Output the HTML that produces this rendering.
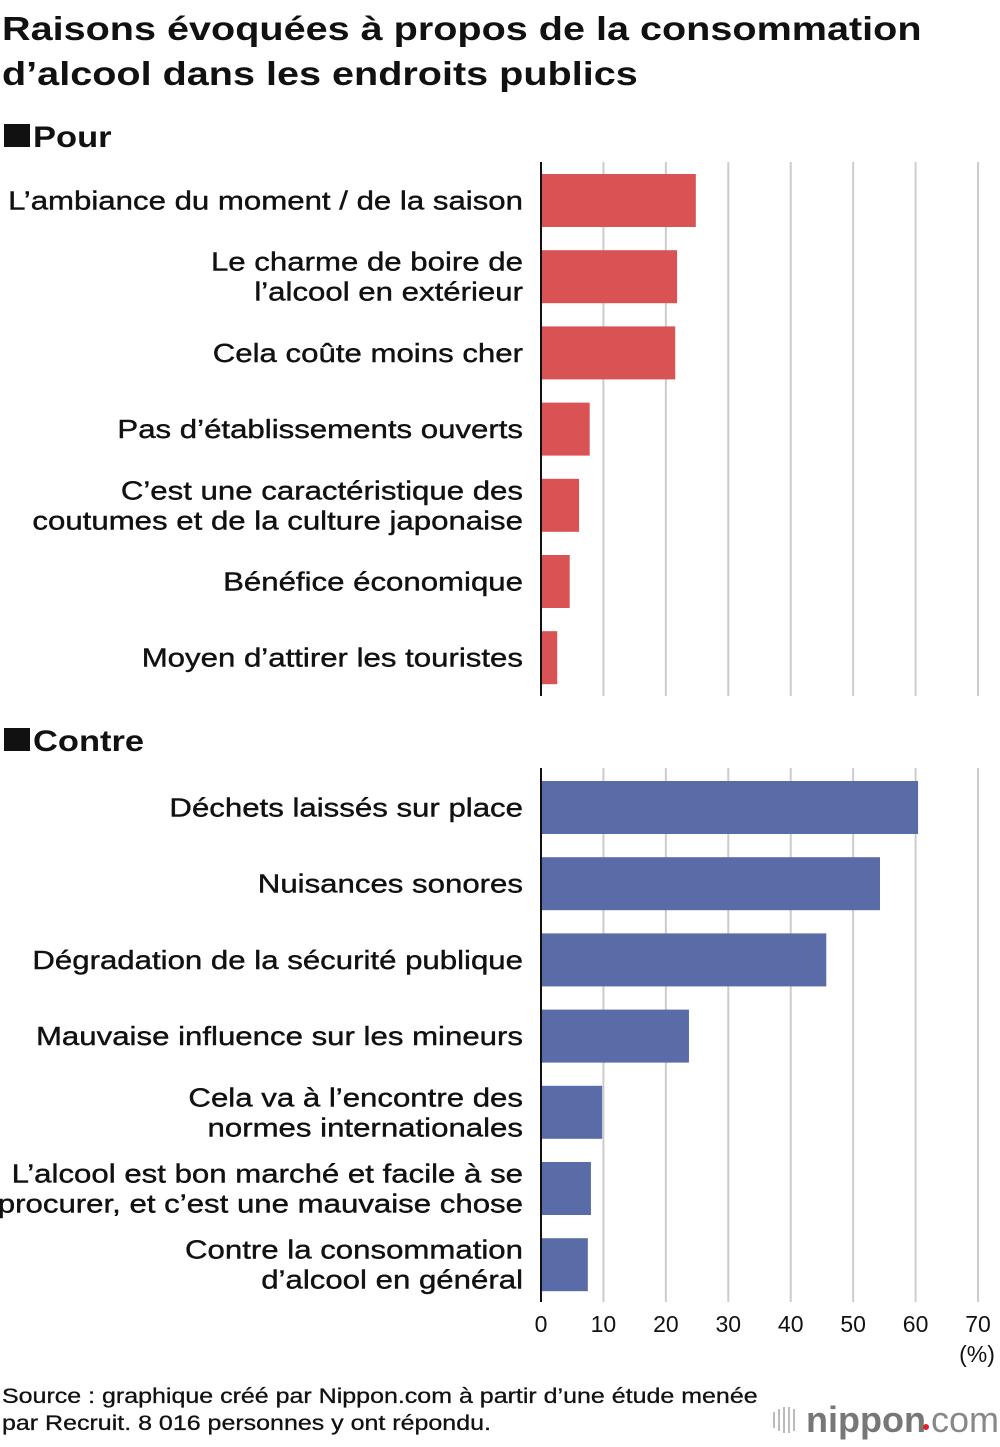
<!DOCTYPE html>
<html><head><meta charset="utf-8"><style>
body{margin:0;background:#fff;font-family:"Liberation Sans",Arial,sans-serif;}
svg text{font-family:"Liberation Sans",Arial,sans-serif;}
</style></head><body>
<svg id="c" width="1000" height="1442" xmlns="http://www.w3.org/2000/svg">
<text transform="translate(2,40) scale(1.2,1)" font-size="33" font-weight="bold" fill="#111">Raisons évoquées à propos de la consommation</text>
<text transform="translate(2,85) scale(1.2,1)" font-size="33" font-weight="bold" fill="#111">d’alcool dans les endroits publics</text>
<rect x="4" y="124" width="26" height="23" fill="#111"/>
<text transform="translate(33,147) scale(1.15,1)" font-size="30" font-weight="bold" fill="#111">Pour</text>
<rect x="4" y="728" width="26" height="23" fill="#111"/>
<text transform="translate(33,751) scale(1.15,1)" font-size="30" font-weight="bold" fill="#111">Contre</text>
<g id="grid"></g><g id="bars"></g><g id="labels"></g><g id="ticks"></g>
<text x="977" y="1362" font-size="23" text-anchor="middle" fill="#111">(%)</text>
<text transform="translate(2,1403) scale(1.19,1)" font-size="21" fill="#111" stroke="#111" stroke-width="0.3">Source : graphique créé par Nippon.com à partir d’une étude menée</text>
<text transform="translate(2,1430) scale(1.19,1)" font-size="21" fill="#111" stroke="#111" stroke-width="0.3">par Recruit. 8 016 personnes y ont répondu.</text>
<g>
<g stroke="#bbb" stroke-width="2"><line x1="774" y1="1412" x2="774" y2="1428"/><line x1="779" y1="1409" x2="779" y2="1431"/><line x1="784" y1="1407" x2="784" y2="1433"/><line x1="789" y1="1407" x2="789" y2="1433"/><line x1="794" y1="1409" x2="794" y2="1431"/></g>
<text x="806" y="1432" font-size="36" font-weight="bold" fill="#777">nippon</text>
<circle cx="926" cy="1427" r="3" fill="#e0202a"/>
<text x="931" y="1432" font-size="36" fill="#888">com</text>
</g>
</svg>
<script>
const pourLabels=[["L’ambiance du moment / de la saison"],["Le charme de boire de","l’alcool en extérieur"],["Cela coûte moins cher"],["Pas d’établissements ouverts"],["C’est une caractéristique des","coutumes et de la culture japonaise"],["Bénéfice économique"],["Moyen d’attirer les touristes"]];
const pourValues=[24.8,21.8,21.5,7.8,6.1,4.6,2.6];
const contreLabels=[["Déchets laissés sur place"],["Nuisances sonores"],["Dégradation de la sécurité publique"],["Mauvaise influence sur les mineurs"],["Cela va à l’encontre des","normes internationales"],["L’alcool est bon marché et facile à se","procurer, et c’est une mauvaise chose"],["Contre la consommation","d’alcool en général"]];
const contreValues=[60.4,54.3,45.7,23.7,9.8,8.0,7.5];
const tickValues=[0,10,20,30,40,50,60,70];
const NS="http://www.w3.org/2000/svg";
const x0=541,pxPer=6.243;
const xs=v=>x0+v*pxPer;
function mk(t,a,p){const e=document.createElementNS(NS,t);for(const k in a)e.setAttribute(k,a[k]);p.appendChild(e);return e;}
const grid=document.getElementById('grid'),bars=document.getElementById('bars'),labels=document.getElementById('labels'),ticks=document.getElementById('ticks');
function panel(top,bottom,firstBar,labs,vals,color,name){
  tickValues.forEach(t=>{if(t===0)return;const l=mk('line',{x1:xs(t),x2:xs(t),y1:top,y2:bottom,stroke:'#ccc','stroke-width':2},grid);
  
  });
  const ax=mk('line',{x1:x0,x2:x0,y1:top,y2:bottom,stroke:'#111','stroke-width':2},grid);
  
  
  vals.forEach((v,i)=>{const y=firstBar+i*76.2;
    const r=mk('rect',{x:x0+1,y:y,width:xs(v)-x0-1,height:53,fill:color},bars);
    
    
    const lines=labs[i];const cy=y+26.5;
    lines.forEach((s,j)=>{const ty=cy+9+(j-(lines.length-1)/2)*30;
      const t=mk('text',{transform:'translate(523,'+ty+') scale(1.2,1)','font-size':26,'text-anchor':'end',fill:'#111',stroke:'#111','stroke-width':0.4},labels);t.textContent=s;
      
      });
  });
}
panel(162,696,174,pourLabels,pourValues,'#d95355','pour');
panel(768,1302,781,contreLabels,contreValues,'#596ca8','contre');
tickValues.forEach(t=>{const e=mk('text',{x:xs(t),y:1332,'font-size':23,'text-anchor':'middle',fill:'#111'},ticks);e.textContent=t;

});
</script>
</body></html>
